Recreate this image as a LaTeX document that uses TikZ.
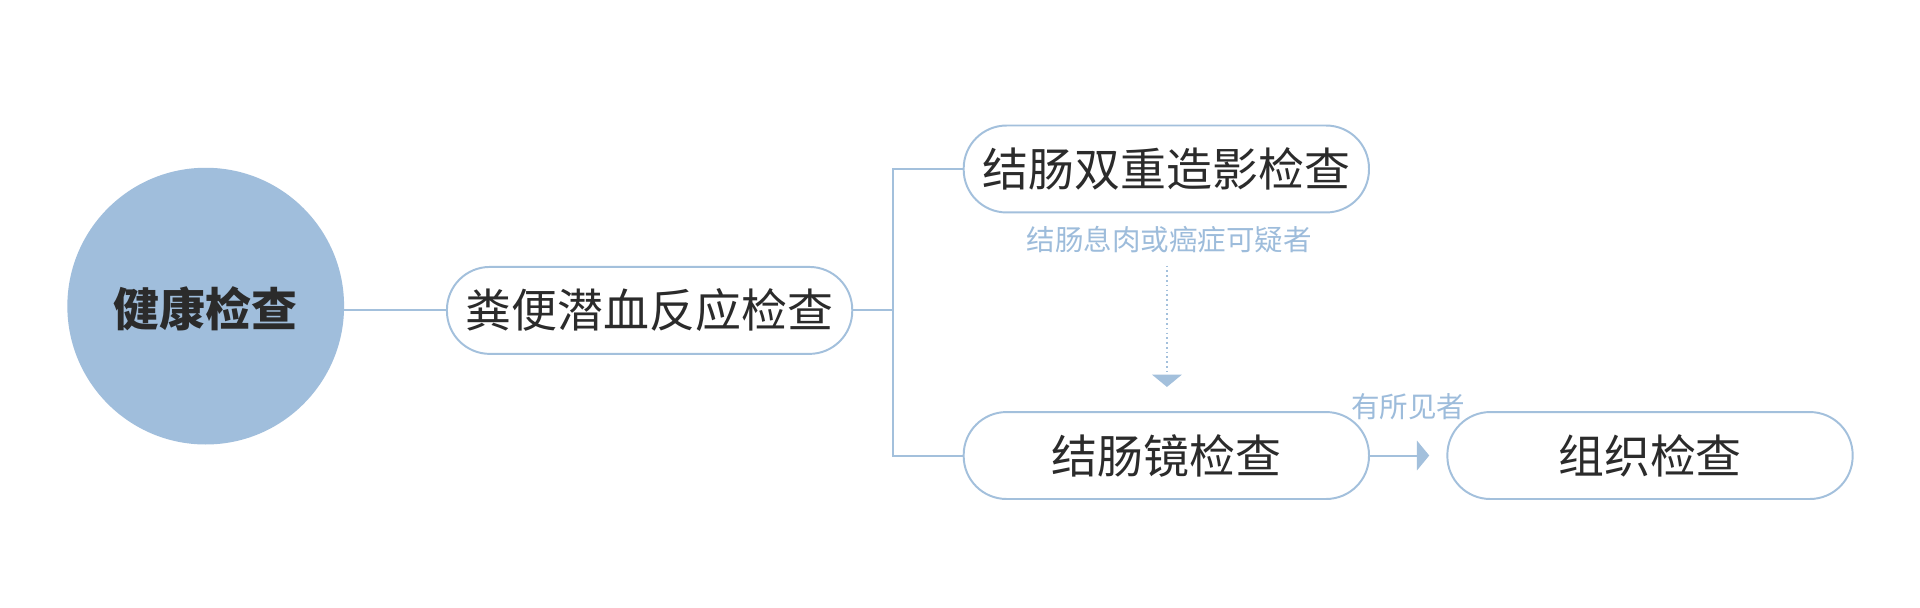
\documentclass[tikz,border=0pt]{standalone}
\usepackage{fontspec}
\setmainfont{Noto Sans CJK SC}
\usetikzlibrary{arrows.meta}
\definecolor{lineblue}{HTML}{A3C0DC}
\definecolor{circfill}{HTML}{A0BEDC}
\definecolor{labblue}{HTML}{9DBCDB}
\definecolor{txtdark}{HTML}{2B2B2B}
\tikzset{
  pill/.style={draw=lineblue, line width=1.6pt, fill=white, rounded corners=35pt,
    minimum width=331pt, minimum height=71pt, inner sep=0pt, text=txtdark,
    font=\fontsize{37.5}{40}\selectfont},
  conn/.style={draw=lineblue, line width=1.6pt},
  lab/.style={text=labblue, font=\fontsize{23.3}{26}\selectfont, inner sep=0pt},
  tri/.style={-{Triangle[width=24pt,length=10pt]}},
}
\begin{document}
\begin{tikzpicture}[x=1pt,y=-1pt]
\fill[white] (0,0) rectangle (1568,496.5);
\useasboundingbox (0,0) rectangle (1568,496.5);
\node[circle, fill=circfill, minimum size=226pt, inner sep=0pt] (root) at (168,250) {};
\node[text=txtdark, font=\fontsize{37.5}{40}\selectfont\bfseries, inner sep=0pt] (rootlab) at (168,252.5) {健康检查};
\node[pill] (fobt) at (530.5,253.5) {粪便潜血反应检查};
\node[pill] (dcbe) at (952.5,138) {结肠双重造影检查};
\node[pill] (colo) at (952.5,372) {结肠镜检查};
\node[pill] (tiss) at (1347.5,372) {组织检查};
\node[lab] (lab1) at (955,196) {结肠息肉或癌症可疑者};
\node[lab] (lab2) at (1150,332) {有所见者};
\coordinate (bus) at (729,253.5);
\coordinate (dtop) at (953,217);
\coordinate (dtip) at (953,316);
\draw[conn] (root.east |- fobt.west) -- (fobt.west);
\draw[conn] (fobt.east) -- (bus);
\draw[conn] (dcbe.west) -- (dcbe.west -| bus) -- (colo.west -| bus) -- (colo.west);
\draw[conn, tri, line width=1.3pt, dash pattern=on 1.3pt off 2.6pt] (dtop) -- (dtip);
\draw[conn, tri, shorten >=14pt] (colo.east) -- (tiss.west);
\end{tikzpicture}
\end{document}
